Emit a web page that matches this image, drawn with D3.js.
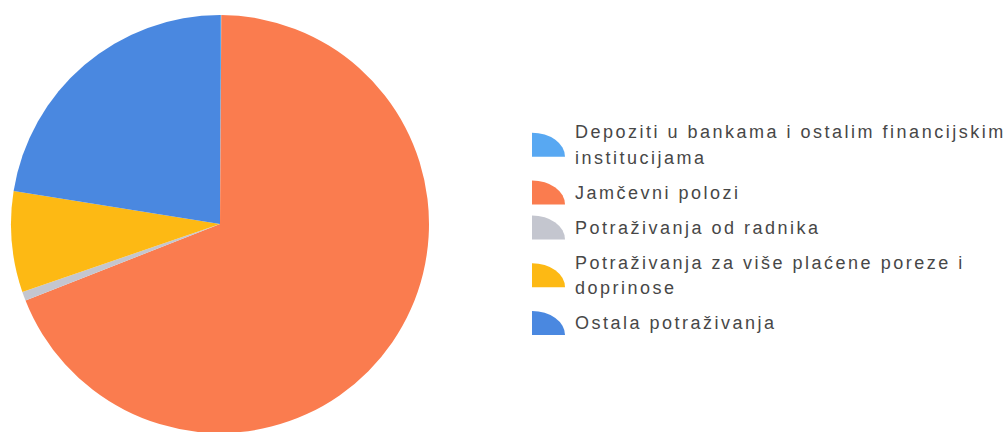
<!DOCTYPE html>
<html>
<head>
<meta charset="utf-8">
<script src="https://cdn.jsdelivr.net/npm/d3@7"></script>
<style>
	html,body{margin:0;padding:0;background:#fff;}
	svg{display:block;}
	.legend text{font-family:"Liberation Sans",Arial,sans-serif;font-size:18px;letter-spacing:2.5px;fill:#474747;}
</style>
</head>
<body>
<svg id="svg"></svg>
<script>
var width = 1007, height = 432;

// categories and values, clockwise from 12 o'clock
var categories = [
	"Depoziti u bankama i ostalim financijskim institucijama",
	"Jamčevni polozi",
	"Potraživanja od radnika",
	"Potraživanja za više plaćene poreze i doprinose",
	"Ostala potraživanja"
];
var legendLines = [
	["Depoziti u bankama i ostalim financijskim", "institucijama"],
	["Jamčevni polozi"],
	["Potraživanja od radnika"],
	["Potraživanja za više plaćene poreze i", "doprinose"],
	["Ostala potraživanja"]
];
var values = [0.1, 69.0, 0.7, 7.8, 22.5];
var colors = ["#58a8f2", "#fa7c4f", "#c4c6cf", "#fdb914", "#4a88e0"];

var svg = d3.select("#svg").attr("width", width).attr("height", height);

var color = d3.scaleOrdinal().domain(categories).range(colors);

var cx = 220, cy = 224, r = 209;

var pie = d3.pie().sort(null).value(function(d){ return d.value; });
var arc = d3.arc().innerRadius(0).outerRadius(r);

var data = categories.map(function(c, i){ return {name: c, value: values[i]}; });

svg.append("g")
	.attr("transform", "translate(" + cx + "," + cy + ")")
	.selectAll("path")
	.data(pie(data))
	.enter().append("path")
	.attr("d", arc)
	.attr("fill", function(d){ return color(d.data.name); });

// legend
var lineH = 25.5, gap = 9.5, iconW = 33, iconH = 24;
var legend = svg.append("g").attr("class", "legend").attr("transform", "translate(532,132)");
var y = 0;
categories.forEach(function(c, i){
	var lines = legendLines[i];
	var mid = y + (lines.length - 1) * lineH / 2;
	var g = legend.append("g");
	// quarter-ellipse icon
	g.append("path")
		.attr("d", "M0," + (mid + iconH / 2) + " L0," + (mid - iconH / 2) +
			" A" + iconW + "," + iconH + " 0 0 1 " + iconW + "," + (mid + iconH / 2) + " Z")
		.attr("fill", color(c));
	var t = g.append("text").attr("x", 43).attr("y", y).attr("dy", "0.35em");
	lines.forEach(function(l, k){
		t.append("tspan").attr("x", 43).attr("y", y + k * lineH).attr("dy", "0.35em").text(l);
	});
	y += lines.length * lineH + gap;
});
</script>
</body>
</html>
